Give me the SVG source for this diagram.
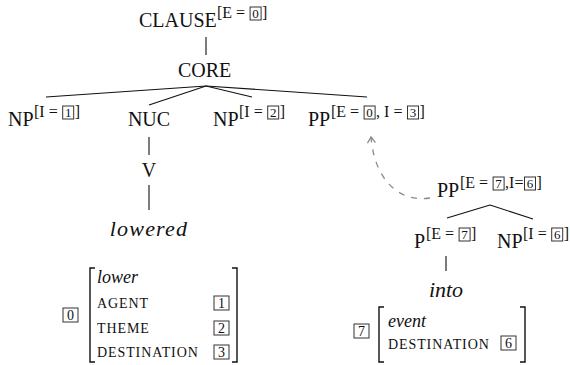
<svg xmlns="http://www.w3.org/2000/svg" width="570" height="365" viewBox="0 0 570 365">
<style>
  .lbl { font-family: "Liberation Serif", "Times New Roman", serif; font-size: 20px; fill: #111; }
  .sup { font-family: "Liberation Serif", "Times New Roman", serif; font-size: 16px; fill: #111; }
  .dig { font-family: "Liberation Serif", "Times New Roman", serif; font-size: 13px; fill: #111; text-anchor: middle; }
  .adig { font-family: "Liberation Serif", "Times New Roman", serif; font-size: 14px; fill: #111; text-anchor: middle; }
  .it { font-family: "Liberation Serif", "Times New Roman", serif; font-style: italic; fill: #111; }
  .sc { font-family: "Liberation Serif", "Times New Roman", serif; font-size: 14px; letter-spacing: 0.9px; fill: #111; }
  .box { fill: none; stroke: #333; stroke-width: 1; }
  .edge { stroke: #111; stroke-width: 1.1; fill: none; }
  .brk { stroke: #111; stroke-width: 1.4; fill: none; }
  .dash { stroke: #8a8a8a; stroke-width: 1.3; fill: none; stroke-dasharray: 6 7; }
</style>
<defs>
  <marker id="arr" markerUnits="userSpaceOnUse" markerWidth="12" markerHeight="12" refX="8" refY="5" orient="auto">
    <path d="M2,1 L8,5 L2,9" fill="none" stroke="#8a8a8a" stroke-width="1.3"/>
  </marker>
</defs>

<g id="connectors">
  <line class="edge" x1="206" y1="37" x2="206" y2="55"/>
  <line class="edge" x1="206" y1="86" x2="46" y2="97"/>
  <line class="edge" x1="206" y1="86" x2="149" y2="105"/>
  <line class="edge" x1="206" y1="86" x2="252" y2="97"/>
  <line class="edge" x1="206" y1="86" x2="367" y2="97"/>
  <line class="edge" x1="149" y1="137" x2="149" y2="155"/>
  <line class="edge" x1="149" y1="185" x2="149" y2="210"/>
  <line class="edge" x1="490" y1="205" x2="447" y2="218"/>
  <line class="edge" x1="490" y1="205" x2="533" y2="219"/>
  <line class="edge" x1="446" y1="256" x2="446" y2="271"/>
  <path class="dash" d="M430,198 C396,203 374,176 371,137" marker-end="url(#arr)"/>
</g>

<g id="clause">
  <text class="lbl" x="139" y="27">CLAUSE</text>
  <text class="sup" x="217" y="18">[E = </text>
  <rect class="box" x="250.1" y="7" width="11" height="13"/>
  <text class="dig" x="255.6" y="17.5">0</text>
  <text class="sup" x="262.1" y="18">]</text>
</g>

<g id="core">
  <text class="lbl" x="178" y="77">CORE</text>
</g>

<g id="np1">
  <text class="lbl" x="8" y="126">NP</text>
  <text class="sup" x="34" y="117">[I = </text>
  <rect class="box" x="62.7" y="106" width="11" height="13"/>
  <text class="dig" x="68.2" y="116.5">1</text>
  <text class="sup" x="74.7" y="117">]</text>
</g>

<g id="nuc">
  <text class="lbl" x="149" y="126" text-anchor="middle">NUC</text>
</g>

<g id="np2">
  <text class="lbl" x="213" y="126">NP</text>
  <text class="sup" x="239" y="117">[I = </text>
  <rect class="box" x="267.7" y="106" width="11" height="13"/>
  <text class="dig" x="273.2" y="116.5">2</text>
  <text class="sup" x="279.7" y="117">]</text>
</g>

<g id="pp">
  <text class="lbl" x="308" y="126">PP</text>
  <text class="sup" x="331" y="117">[E = </text>
  <rect class="box" x="364.1" y="106" width="11" height="13"/>
  <text class="dig" x="369.6" y="116.5">0</text>
  <text class="sup" x="376.1" y="117">, I = </text>
  <rect class="box" x="407.5" y="106" width="11" height="13"/>
  <text class="dig" x="413" y="116.5">3</text>
  <text class="sup" x="419.5" y="117">]</text>
</g>

<g id="v">
  <text class="lbl" x="149" y="177" text-anchor="middle">V</text>
</g>

<g id="lowered">
  <text class="it" x="149" y="236" font-size="22" letter-spacing="1.2" text-anchor="middle">lowered</text>
</g>

<g id="pp2">
  <text class="lbl" x="437" y="197">PP</text>
  <text class="sup" x="460" y="188">[E = </text>
  <rect class="box" x="493.1" y="177" width="11" height="13"/>
  <text class="dig" x="498.6" y="187.5">7</text>
  <text class="sup" x="505.1" y="188">,I=</text>
  <rect class="box" x="524.5" y="177" width="11" height="13"/>
  <text class="dig" x="530" y="187.5">6</text>
  <text class="sup" x="536.5" y="188">]</text>
</g>

<g id="p">
  <text class="lbl" x="414" y="248">P</text>
  <text class="sup" x="426" y="239">[E = </text>
  <rect class="box" x="459.1" y="228" width="11" height="13"/>
  <text class="dig" x="464.6" y="238.5">7</text>
  <text class="sup" x="471.1" y="239">]</text>
</g>

<g id="np3">
  <text class="lbl" x="497" y="248">NP</text>
  <text class="sup" x="523" y="239">[I = </text>
  <rect class="box" x="551.7" y="228" width="11" height="13"/>
  <text class="dig" x="557.2" y="238.5">6</text>
  <text class="sup" x="563.7" y="239">]</text>
</g>

<g id="into">
  <text class="it" x="446" y="297" font-size="22" text-anchor="middle">into</text>
</g>

<g id="avm-lower">
  <rect class="box" x="63" y="308" width="15" height="14"/>
  <text class="adig" x="70.5" y="319.5">0</text>
  <path class="brk" d="M95,268 H90 V362 H95"/>
  <path class="brk" d="M232,268 H237 V362 H232"/>
  <text class="it" x="97" y="283" font-size="18">lower</text>
  <text class="sc" x="97" y="308">AGENT</text>
  <text class="sc" x="97" y="333">THEME</text>
  <text class="sc" x="97" y="357">DESTINATION</text>
  <rect class="box" x="214" y="296" width="15" height="14"/>
  <text class="adig" x="221.5" y="307.5">1</text>
  <rect class="box" x="214" y="321" width="15" height="14"/>
  <text class="adig" x="221.5" y="332.5">2</text>
  <rect class="box" x="214" y="345" width="15" height="14"/>
  <text class="adig" x="221.5" y="356.5">3</text>
</g>

<g id="avm-into">
  <rect class="box" x="354" y="324" width="15" height="14"/>
  <text class="adig" x="361.5" y="335.5">7</text>
  <path class="brk" d="M384,307 H379 V362 H384"/>
  <path class="brk" d="M520,307 H525 V362 H520"/>
  <text class="it" x="388" y="327" font-size="18">event</text>
  <text class="sc" x="388" y="349">DESTINATION</text>
  <rect class="box" x="501" y="336" width="15" height="14"/>
  <text class="adig" x="508.5" y="347.5">6</text>
</g>
</svg>
